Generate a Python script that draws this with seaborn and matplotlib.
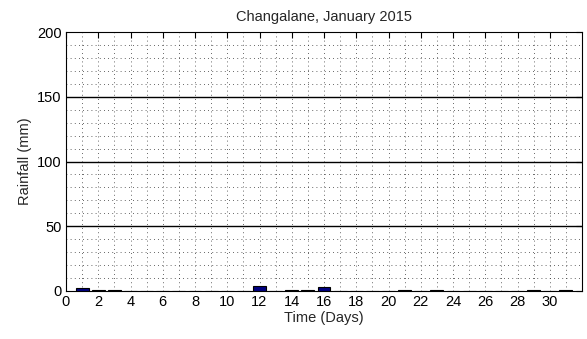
import matplotlib
matplotlib.use("Agg")
import matplotlib.pyplot as plt
import seaborn as sns
import numpy as np
from matplotlib.ticker import MultipleLocator

days = list(range(1, 32))
rainfall = [2.3, 0.5, 0.5, 0, 0, 0, 0, 0, 0, 0, 0, 4.0, 0, 0.4, 0.5, 2.8,
            0, 0, 0, 0, 0.4, 0, 0.4, 0, 0, 0, 0, 0, 0.4, 0, 0.4]
ref_levels = [50, 100, 150]
x_ticks = list(range(0, 31, 2))
y_ticks = [0, 50, 100, 150, 200]

sns.set_style("white")
plt.rcParams['font.family'] = ['Liberation Sans', 'DejaVu Sans']

fig = plt.figure(figsize=(5.87, 3.39), dpi=100)
ax = fig.add_axes([66/587, 1-291/339, 516/587, 259/339])

sns.barplot(x=days, y=rainfall, native_scale=True, width=0.8,
            color="#000080", edgecolor="black", linewidth=0.8, ax=ax,
            zorder=3, saturation=1)

for lv in ref_levels:
    ax.axhline(lv, color="black", linewidth=1.0, zorder=2)

ax.set_xlim(0, 32)
ax.set_ylim(0, 200)
ax.set_xticks(x_ticks)
ax.set_xticklabels([str(t) for t in x_ticks])
ax.set_yticks(y_ticks)
ax.xaxis.set_minor_locator(MultipleLocator(1))
ax.yaxis.set_minor_locator(MultipleLocator(10))

ax.grid(True, which="both", color="#333333", linestyle=(0, (1, 4)), linewidth=0.6, zorder=1)
ax.set_axisbelow(True)

fs = 10.5
ax.tick_params(which="major", direction="in", top=True, right=True, length=4,
               width=0.8, labelsize=fs, colors="black", pad=3)
ax.tick_params(which="minor", length=0, top=True, right=True)
for s in ax.spines.values():
    s.set_visible(True)
    s.set_color("black")
    s.set_linewidth(0.8)

ax.set_xlabel("Time (Days)", fontsize=fs, labelpad=1)
ax.set_ylabel("Rainfall (mm)", fontsize=fs, labelpad=4)
ax.set_title("Changalane, January 2015", fontsize=fs, pad=8)

fig.savefig("out.png", dpi=100)
